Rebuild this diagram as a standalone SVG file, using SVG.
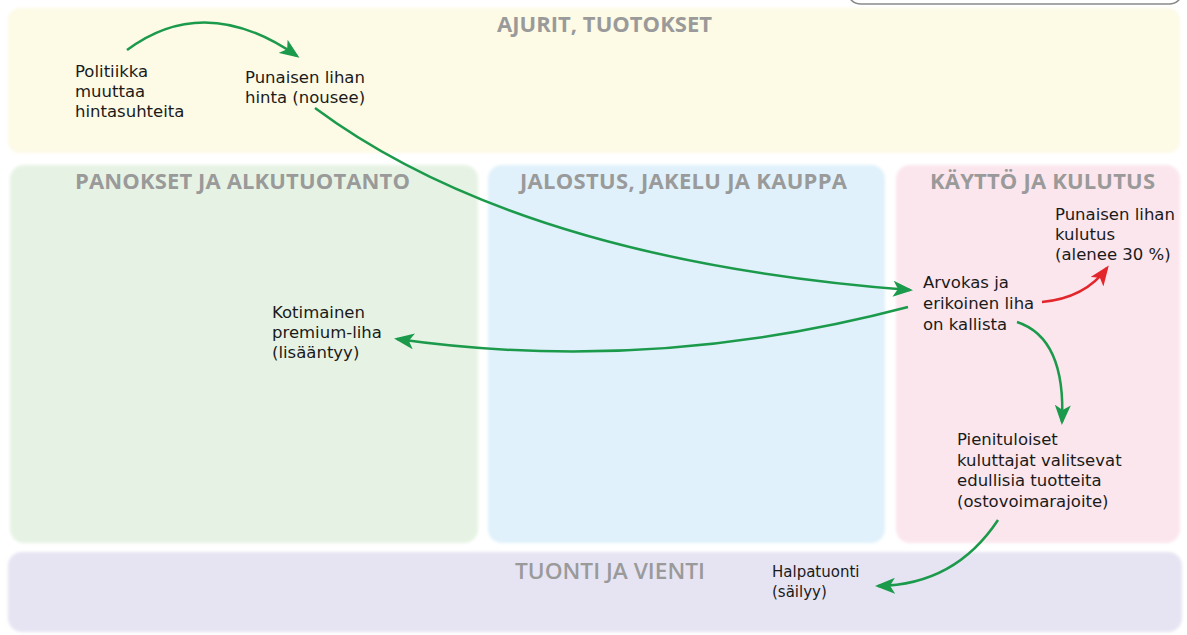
<svg xmlns="http://www.w3.org/2000/svg" width="1187" height="635" viewBox="0 0 1187 635">
  <defs>
    <filter id="soft" x="-5%" y="-5%" width="110%" height="110%">
      <feGaussianBlur stdDeviation="1.5"/>
    </filter>
    <marker id="ahGreen" viewBox="0 0 20 16" refX="17" refY="8" markerWidth="20" markerHeight="16" markerUnits="userSpaceOnUse" orient="auto">
      <path d="M0,0 L20,8 L0,16 L5,8 z" fill="#1b9a4b"/>
    </marker>
    <marker id="ahRed" viewBox="0 0 20 16" refX="17" refY="8" markerWidth="20" markerHeight="16" markerUnits="userSpaceOnUse" orient="auto">
      <path d="M0,0 L20,8 L0,16 L5,8 z" fill="#e3262b"/>
    </marker>
  </defs>
  <style>
    .band { filter: url(#soft); }
    .title { font-family: "Open Sans", "Liberation Sans", sans-serif; font-weight: 700; font-size: 22px; fill: #9a9a9a; }
    .label { font-family: "DejaVu Sans", "Liberation Sans", sans-serif; font-size: 16.5px; fill: #1a1a1a; }
    .small { font-family: "DejaVu Sans", "Liberation Sans", sans-serif; font-size: 15px; fill: #1a1a1a; }
    .flow { fill: none; stroke: #1b9a4b; stroke-width: 2.5; marker-end: url(#ahGreen); }
    .flow.down { stroke: #e3262b; marker-end: url(#ahRed); }
  </style>

  <rect width="1187" height="635" fill="#ffffff"/>

  <!-- sector bands -->
  <g id="band-drivers">
    <rect class="band" x="8" y="8" width="1172" height="145" rx="12" fill="#fdfae6"/>
    <text class="title" x="497" y="32" textLength="215">AJURIT, TUOTOKSET</text>
  </g>
  <g id="band-primary">
    <rect class="band" x="10" y="165" width="468" height="378" rx="14" fill="#e6f3e4"/>
    <text class="title" x="75" y="189" textLength="335">PANOKSET JA ALKUTUOTANTO</text>
  </g>
  <g id="band-processing">
    <rect class="band" x="488" y="165" width="397" height="378" rx="14" fill="#e0f1fb"/>
    <text class="title" x="520" y="189" textLength="327">JALOSTUS, JAKELU JA KAUPPA</text>
  </g>
  <g id="band-consumption">
    <rect class="band" x="896" y="165" width="284" height="378" rx="14" fill="#fbe6ed"/>
    <text class="title" x="930" y="189" textLength="225">KÄYTTÖ JA KULUTUS</text>
  </g>
  <g id="band-trade">
    <rect class="band" x="8" y="552" width="1174" height="80" rx="14" fill="#e6e4f2"/>
    <text class="title" x="515" y="579" textLength="190" lengthAdjust="spacingAndGlyphs" style="font-weight:600;font-size:22px">TUONTI JA VIENTI</text>
  </g>

  <!-- legend box cut by the top edge -->
  <rect x="847" y="-30" width="336" height="34" rx="14" fill="#ffffff" stroke="#8a8a8a" stroke-width="1.5"/>

  <!-- connectors -->
  <g id="connectors">
    <path class="flow" d="M127,50 Q205,-8 297,56"/>
    <path class="flow" d="M315,108 Q520,260 910,290"/>
    <path class="flow" d="M908,307 Q650,375 397,339"/>
    <path class="flow down" d="M1042,302 Q1085,298 1107,268"/>
    <path class="flow" d="M1017,322 Q1066,338 1062,422"/>
    <path class="flow" d="M998,520 Q955,585 878,586"/>
  </g>

  <!-- nodes -->
  <g id="node-policy">
    <text class="label" x="75" y="77">Politiikka<tspan x="75" dy="20">muuttaa</tspan><tspan x="75" dy="20">hintasuhteita</tspan></text>
  </g>
  <g id="node-price">
    <text class="label" x="245" y="83">Punaisen lihan<tspan x="245" dy="20">hinta (nousee)</tspan></text>
  </g>
  <g id="node-premium">
    <text class="label" x="272" y="318">Kotimainen<tspan x="272" dy="20">premium-liha</tspan><tspan x="272" dy="20">(lisääntyy)</tspan></text>
  </g>
  <g id="node-expensive">
    <text class="label" x="923" y="288">Arvokas ja<tspan x="923" dy="21">erikoinen liha</tspan><tspan x="923" dy="21">on kallista</tspan></text>
  </g>
  <g id="node-consumption">
    <text class="label" x="1055" y="220">Punaisen lihan<tspan x="1055" dy="20">kulutus</tspan><tspan x="1055" dy="20">(alenee 30 %)</tspan></text>
  </g>
  <g id="node-lowincome">
    <text class="label" x="957" y="445">Pienituloiset<tspan x="957" dy="20.5">kuluttajat valitsevat</tspan><tspan x="957" dy="20.5">edullisia tuotteita</tspan><tspan x="957" dy="20.5">(ostovoimarajoite)</tspan></text>
  </g>
  <g id="node-imports">
    <text class="small" x="772" y="577">Halpatuonti<tspan x="772" dy="20">(säilyy)</tspan></text>
  </g>
</svg>
